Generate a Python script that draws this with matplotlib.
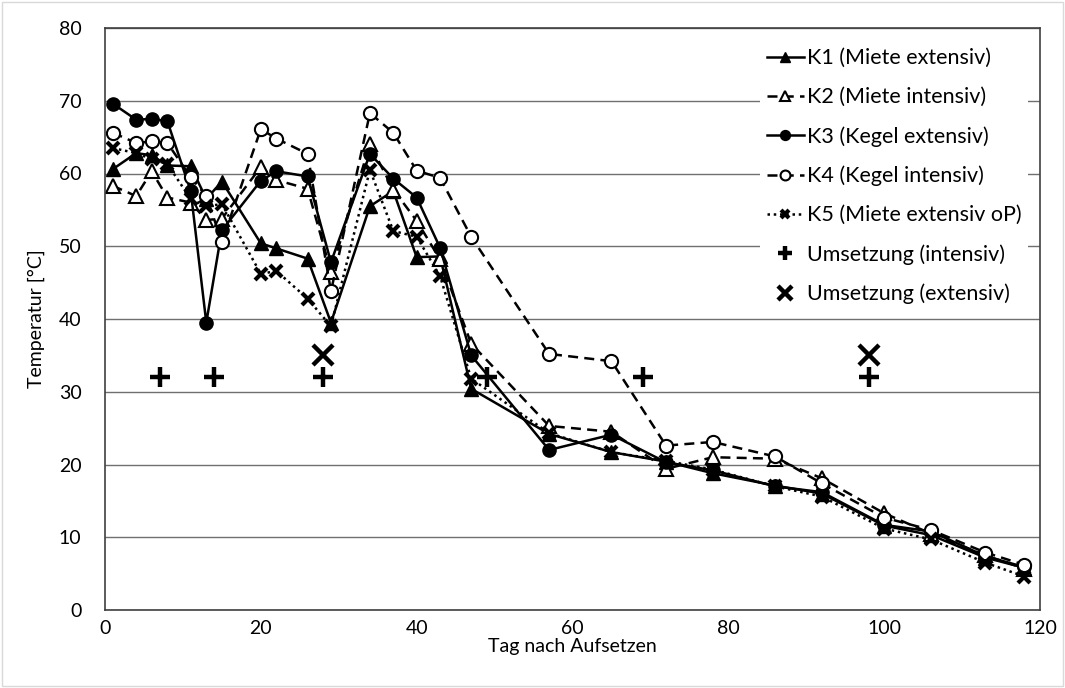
import matplotlib
matplotlib.use("Agg")
import matplotlib.pyplot as plt
import numpy as np

plt.rcParams['font.family'] = ['Lato', 'DejaVu Sans']

# Tage der Messungen
tage = [1, 4, 6, 8, 11, 13, 15, 20, 22, 26, 29, 34, 37, 40, 43, 47,
        57, 65, 72, 78, 86, 92, 100, 106, 113, 118]

k1 = [60.6, 62.8, 62.5, 61.1, 61.0, 56.5, 58.9, 50.4, 49.7, 48.3, 39.5, 55.5, 57.6, 48.5, 48.6, 30.4,
      24.2, 21.7, 20.4, 18.8, 17.1, 16.0, 11.6, 10.3, 7.2, 5.8]
k2 = [58.3, 56.9, 60.3, 56.7, 56.0, 53.6, 53.8, 60.9, 59.1, 57.9, 46.5, 64.0, 57.8, 53.5, 48.2, 36.6,
      25.3, 24.5, 19.4, 21.0, 20.8, 18.1, 13.3, 10.5, 7.5, 5.7]
k3 = [69.6, 67.4, 67.5, 67.2, 57.6, 39.5, 52.2, 59.0, 60.3, 59.6, 47.8, 62.7, 59.3, 56.7, 49.8, 35.0,
      22.0, 24.1, 20.3, 19.2, 17.0, 16.2, 11.7, 10.8, 7.4, 5.9]
k4 = [65.6, 64.2, 64.4, 64.2, 59.5, 56.9, 50.6, 66.1, 64.8, 62.7, 43.8, 68.3, 65.6, 60.4, 59.4, 51.3,
      35.2, 34.2, 22.6, 23.1, 21.1, 17.4, 12.7, 11.0, 7.9, 6.2]
k5 = [63.5, 62.8, 62.0, 61.3, 56.5, 55.5, 55.8, 46.2, 46.6, 42.8, 39.0, 60.5, 52.1, 51.3, 45.9, 31.8,
      24.3, 21.7, 20.5, 19.3, 17.0, 15.6, 11.2, 9.7, 6.5, 4.6]

umsetz_int_tage = [7, 14, 28, 49, 69, 98]
umsetz_int_temp = [32, 32, 32, 32, 32, 32]
umsetz_ext_tage = [28, 98]
umsetz_ext_temp = [35, 35]

fig = plt.figure(figsize=(10.65, 6.88), dpi=100)
ax = fig.add_axes([105/1065, 1 - 610/688, 935/1065, 582/688])

# Rahmen um das Diagramm
fig.patches.append(plt.Rectangle((0.002, 0.003), 0.996, 0.994, transform=fig.transFigure,
                                 fill=False, edgecolor='#d9d9d9', lw=1))

ax.set_xlim(0, 120)
ax.set_ylim(0, 80)
ax.set_xticks(np.arange(0, 121, 20))
ax.set_yticks(np.arange(0, 81, 10))
ax.yaxis.grid(True, color='#6f6f6f', lw=1)
ax.set_axisbelow(True)
ax.tick_params(length=0, labelsize=14)
ax.tick_params(axis='y', pad=17)
ax.tick_params(axis='x', pad=7)
for s in ax.spines.values():
    s.set_color('#404040')
    s.set_linewidth(1.2)

lw = 1.8
ms = 9.5
ax.plot(tage, k1, color='black', lw=lw, ls='-', marker='^', ms=ms, mfc='black', mec='black',
        label='K1 (Miete extensiv)')
ax.plot(tage, k2, color='black', lw=lw, ls=(0, (4, 2.5)), marker='^', ms=ms, mfc='white', mec='black',
        mew=1.5, label='K2 (Miete intensiv)')
ax.plot(tage, k3, color='black', lw=lw, ls='-', marker='o', ms=ms, mfc='black', mec='black',
        label='K3 (Kegel extensiv)')
ax.plot(tage, k4, color='black', lw=lw, ls=(0, (4, 2.5)), marker='o', ms=ms, mfc='white', mec='black',
        mew=1.5, label='K4 (Kegel intensiv)')
ax.plot(tage, k5, color='black', lw=lw, ls=(0, (1, 1.5)), marker='x', ms=ms - 1, mew=3, mec='black',
        label='K5 (Miete extensiv oP)')
ax.plot(umsetz_int_tage, umsetz_int_temp, ls='none', marker='+', ms=15, mew=3.2, color='black',
        label='Umsetzung (intensiv)')
ax.plot(umsetz_ext_tage, umsetz_ext_temp, ls='none', marker='x', ms=15, mew=3.2, color='black',
        label='Umsetzung (extensiv)')

handles, labels = ax.get_legend_handles_labels()
leg = ax.legend(handles, labels, loc='upper right', bbox_to_anchor=(0.9985, 0.995), frameon=True,
                fontsize=15.5, labelspacing=0.88, handlelength=1.7, handletextpad=0.15,
                borderpad=0.3, markerscale=0.75)
leg.get_frame().set_edgecolor('none')
leg.get_frame().set_facecolor('white')
leg.get_frame().set_alpha(1)
leg.get_frame().set_boxstyle('square', pad=0)
leg.legend_handles[5].set_markersize(10)
leg.legend_handles[6].set_markersize(10)

ax.set_xlabel('Tag nach Aufsetzen', fontsize=14, labelpad=1)
ax.set_ylabel('Temperatur [°C]', fontsize=14, labelpad=10)

fig.savefig('out.png', dpi=100)
